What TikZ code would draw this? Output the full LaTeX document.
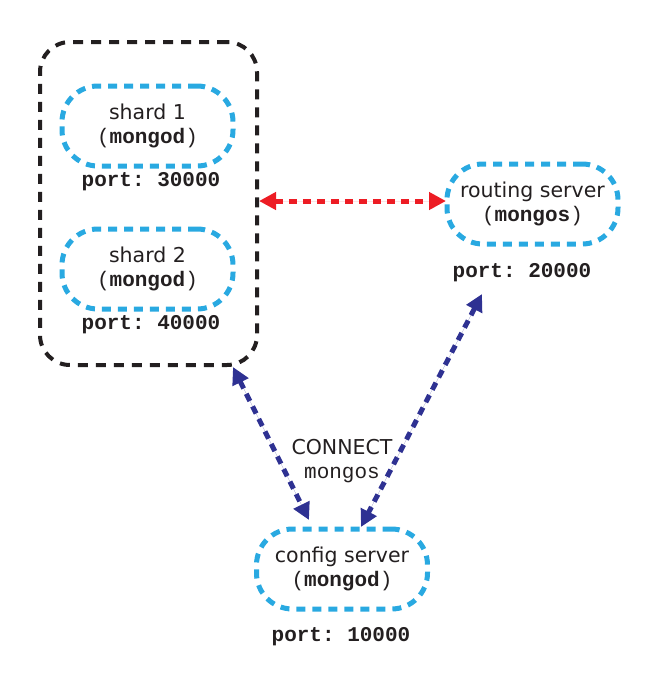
\documentclass[tikz,border=0pt]{standalone}
\usepackage{fontspec}
\setmainfont{DejaVu Sans}
\setmonofont{Liberation Mono}
\usetikzlibrary{arrows.meta}
\definecolor{cyanb}{HTML}{29A9E1}
\definecolor{navy}{HTML}{2E3192}
\definecolor{redd}{HTML}{ED1C24}
\definecolor{blk}{HTML}{231F20}
\newcommand{\mprog}[1]{{\fontsize{21}{24}\selectfont\ttfamily(\textbf{#1})}}
\tikzset{
  server/.style={draw=cyanb, line width=5pt, dash pattern=on 9pt off 7pt, rounded corners=36pt,
    minimum width=171pt, minimum height=80pt, align=center, font=\fontsize{20.5}{24}\selectfont, text=blk, inner sep=0pt},
  porttxt/.style={font=\fontsize{21}{22}\selectfont\ttfamily\bfseries, text=blk, inner sep=0pt},
  cluster/.style={draw=blk, line width=4pt, dash pattern=on 10pt off 8pt, rounded corners=30pt},
  link/.style={line width=5pt, dash pattern=on 8pt off 6pt, {Triangle[length=17pt,width=17pt]}-{Triangle[length=17pt,width=17pt]}},
}
\begin{document}
\begin{tikzpicture}[x=1pt,y=-1pt]
\useasboundingbox (0,0) rectangle (647,686);
\node[cluster, minimum width=217pt, minimum height=323pt, inner sep=0pt] (cl) at (148.5,203.5) {};
\node[server] (s1) at (147.5,126) {shard 1\\\mprog{mongod}};
\node[porttxt] (p1) at (151,182) {port: 30000};
\node[server] (s2) at (147.5,269) {shard 2\\\mprog{mongod}};
\node[porttxt] (p2) at (151,325) {port: 40000};
\node[server] (rs) at (532.5,204) {routing server\\\mprog{mongos}};
\node[porttxt] (pr) at (522,273) {port: 20000};
\node[server] (cs) at (342,569) {config server\\\mprog{mongod}};
\node[porttxt] (pc) at (341,637) {port: 10000};
\node[align=center, font=\fontsize{20.5}{24}\selectfont, text=blk, inner sep=0pt] (lbl) at (342,461) {CONNECT\\{\fontsize{21}{24}\selectfont\ttfamily mongos}};
\coordinate (a1) at (259,201);
\coordinate (a2) at (446,201);
\coordinate (b1) at (233,367);
\coordinate (b2) at (309,520);
\coordinate (c1) at (482,294);
\coordinate (c2) at (361,527);
\draw[link, draw=redd, fill=redd] (a1) -- (a2);
\draw[link, draw=navy, fill=navy] (b1) -- (b2);
\draw[link, draw=navy, fill=navy] (c1) -- (c2);
\end{tikzpicture}
\end{document}
